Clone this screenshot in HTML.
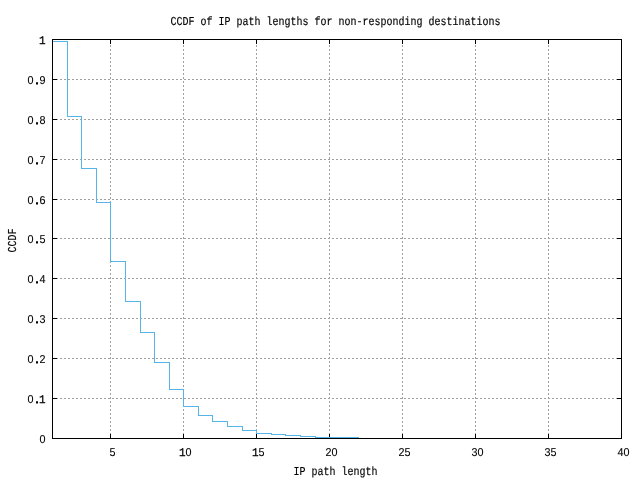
<!DOCTYPE html>
<html lang="en"><head><meta charset="utf-8">
<title>CCDF of IP path lengths for non-responding destinations</title>
<style>
html,body{margin:0;padding:0;background:#fff;}
body{width:640px;height:480px;overflow:hidden;}
svg{display:block;}
.t{font-family:"Liberation Mono", "DejaVu Sans Mono", monospace;font-size:10px;fill:#000;stroke:#000;stroke-width:0.15px;text-rendering:geometricPrecision;}
.n{font-family:"Liberation Sans", "DejaVu Sans", sans-serif;font-size:10.8px;fill:#000;stroke:#000;stroke-width:0.1px;text-rendering:geometricPrecision;}
.d{stroke-width:0.95px;stroke-linejoin:miter;}
.o{font-family:"Liberation Mono", "DejaVu Sans Mono", monospace;font-size:11px;stroke-width:0.25px;}
.g{stroke:#a0a0a0;stroke-width:1;stroke-dasharray:2 2;fill:none;}
.k{stroke:#000;stroke-width:1;fill:none;}
</style></head><body>
<svg width="640" height="480" viewBox="0 0 640 480">
<rect x="0" y="0" width="640" height="480" fill="#ffffff"/>
<g class="g" shape-rendering="crispEdges">
<line x1="52" y1="398.5" x2="622" y2="398.5"/>
<line x1="52" y1="358.5" x2="622" y2="358.5"/>
<line x1="52" y1="318.5" x2="622" y2="318.5"/>
<line x1="52" y1="278.5" x2="622" y2="278.5"/>
<line x1="52" y1="238.5" x2="622" y2="238.5"/>
<line x1="52" y1="199.5" x2="622" y2="199.5"/>
<line x1="52" y1="159.5" x2="622" y2="159.5"/>
<line x1="52" y1="119.5" x2="622" y2="119.5"/>
<line x1="52" y1="79.5" x2="622" y2="79.5"/>
<line x1="110.5" y1="439" x2="110.5" y2="39"/>
<line x1="183.5" y1="439" x2="183.5" y2="39"/>
<line x1="256.5" y1="439" x2="256.5" y2="39"/>
<line x1="329.5" y1="439" x2="329.5" y2="39"/>
<line x1="402.5" y1="439" x2="402.5" y2="39"/>
<line x1="475.5" y1="439" x2="475.5" y2="39"/>
<line x1="548.5" y1="439" x2="548.5" y2="39"/>
</g>
<g class="k" shape-rendering="crispEdges">
<line x1="52" y1="438.5" x2="57" y2="438.5"/>
<line x1="622" y1="438.5" x2="617" y2="438.5"/>
<line x1="52" y1="398.5" x2="57" y2="398.5"/>
<line x1="622" y1="398.5" x2="617" y2="398.5"/>
<line x1="52" y1="358.5" x2="57" y2="358.5"/>
<line x1="622" y1="358.5" x2="617" y2="358.5"/>
<line x1="52" y1="318.5" x2="57" y2="318.5"/>
<line x1="622" y1="318.5" x2="617" y2="318.5"/>
<line x1="52" y1="278.5" x2="57" y2="278.5"/>
<line x1="622" y1="278.5" x2="617" y2="278.5"/>
<line x1="52" y1="238.5" x2="57" y2="238.5"/>
<line x1="622" y1="238.5" x2="617" y2="238.5"/>
<line x1="52" y1="199.5" x2="57" y2="199.5"/>
<line x1="622" y1="199.5" x2="617" y2="199.5"/>
<line x1="52" y1="159.5" x2="57" y2="159.5"/>
<line x1="622" y1="159.5" x2="617" y2="159.5"/>
<line x1="52" y1="119.5" x2="57" y2="119.5"/>
<line x1="622" y1="119.5" x2="617" y2="119.5"/>
<line x1="52" y1="79.5" x2="57" y2="79.5"/>
<line x1="622" y1="79.5" x2="617" y2="79.5"/>
<line x1="52" y1="39.5" x2="57" y2="39.5"/>
<line x1="622" y1="39.5" x2="617" y2="39.5"/>
<line x1="110.5" y1="439" x2="110.5" y2="434"/>
<line x1="110.5" y1="39" x2="110.5" y2="44"/>
<line x1="183.5" y1="439" x2="183.5" y2="434"/>
<line x1="183.5" y1="39" x2="183.5" y2="44"/>
<line x1="256.5" y1="439" x2="256.5" y2="434"/>
<line x1="256.5" y1="39" x2="256.5" y2="44"/>
<line x1="329.5" y1="439" x2="329.5" y2="434"/>
<line x1="329.5" y1="39" x2="329.5" y2="44"/>
<line x1="402.5" y1="439" x2="402.5" y2="434"/>
<line x1="402.5" y1="39" x2="402.5" y2="44"/>
<line x1="475.5" y1="439" x2="475.5" y2="434"/>
<line x1="475.5" y1="39" x2="475.5" y2="44"/>
<line x1="548.5" y1="439" x2="548.5" y2="434"/>
<line x1="548.5" y1="39" x2="548.5" y2="44"/>
<line x1="621.5" y1="439" x2="621.5" y2="434"/>
<line x1="621.5" y1="39" x2="621.5" y2="44"/>
</g>
<path d="M52.5 41.5 L52.5 41.5 L67.5 41.5 L67.5 116.5 L81.5 116.5 L81.5 168.5 L96.5 168.5 L96.5 202.5 L110.5 202.5 L110.5 261.5 L125.5 261.5 L125.5 301.5 L140.5 301.5 L140.5 332.5 L154.5 332.5 L154.5 362.5 L169.5 362.5 L169.5 389.5 L183.5 389.5 L183.5 406.5 L198.5 406.5 L198.5 415.5 L212.5 415.5 L212.5 421.5 L227.5 421.5 L227.5 426.5 L242.5 426.5 L242.5 430.5 L256.5 430.5 L256.5 433.5 L271.5 433.5 L271.5 434.5 L285.5 434.5 L285.5 435.5 L300.5 435.5 L300.5 436.5 L315.5 436.5 L315.5 437.5 L329.5 437.5 L329.5 437.5 L344.5 437.5 L344.5 437.5 L358.5 437.5" fill="none" stroke="#56b4e9" stroke-width="1" stroke-linejoin="miter" stroke-linecap="square" shape-rendering="crispEdges"/>
<rect class="k" shape-rendering="crispEdges" x="52.5" y="39.5" width="569" height="399"/>
<g style="opacity:0.999">
<text class="t" transform="translate(170.5,25) scale(1,1.214)" text-anchor="start">CCDF of IP path lengths for non-responding destinations</text>
<text class="n" transform="translate(39.5,443) scale(1,1.06)">0</text>
<text class="n" transform="translate(27.5,403) scale(1,1.06)" x="0 7.9 11.57" y="0 -0.4 0">0<tspan class="d">.</tspan><tspan class="o">1</tspan></text>
<text class="n" transform="translate(27.5,363) scale(1,1.06)" x="0 7.9 12" y="0 -0.4 0">0<tspan class="d">.</tspan>2</text>
<text class="n" transform="translate(27.5,323) scale(1,1.06)" x="0 7.9 12" y="0 -0.4 0">0<tspan class="d">.</tspan>3</text>
<text class="n" transform="translate(27.5,283) scale(1,1.06)" x="0 7.9 12" y="0 -0.4 0">0<tspan class="d">.</tspan>4</text>
<text class="n" transform="translate(27.5,243) scale(1,1.06)" x="0 7.9 12" y="0 -0.4 0">0<tspan class="d">.</tspan>5</text>
<text class="n" transform="translate(27.5,204) scale(1,1.06)" x="0 7.9 12" y="0 -0.4 0">0<tspan class="d">.</tspan>6</text>
<text class="n" transform="translate(27.5,164) scale(1,1.06)" x="0 7.9 12" y="0 -0.4 0">0<tspan class="d">.</tspan>7</text>
<text class="n" transform="translate(27.5,124) scale(1,1.06)" x="0 7.9 12" y="0 -0.4 0">0<tspan class="d">.</tspan>8</text>
<text class="n" transform="translate(27.5,84) scale(1,1.06)" x="0 7.9 12" y="0 -0.4 0">0<tspan class="d">.</tspan>9</text>
<text class="n" transform="translate(39.5,44) scale(1,1.06)" x="-0.43"><tspan class="o">1</tspan></text>
<text class="n" transform="translate(109.5,456) scale(1,1.06)">5</text>
<text class="n" transform="translate(179.5,456) scale(1,1.06)" x="-0.43 6"><tspan class="o">1</tspan>0</text>
<text class="n" transform="translate(252.5,456) scale(1,1.06)" x="-0.43 6"><tspan class="o">1</tspan>5</text>
<text class="n" transform="translate(325.5,456) scale(1,1.06)" x="0 6">20</text>
<text class="n" transform="translate(398.5,456) scale(1,1.06)" x="0 6">25</text>
<text class="n" transform="translate(471.5,456) scale(1,1.06)" x="0 6">30</text>
<text class="n" transform="translate(544.5,456) scale(1,1.06)" x="0 6">35</text>
<text class="n" transform="translate(617.5,456) scale(1,1.06)" x="0 6">40</text>
<text class="t" transform="translate(293.5,475) scale(1,1.214)" text-anchor="start">IP path length</text>
<text class="t" transform="translate(16,252.5) rotate(-90) scale(1,1.214)" text-anchor="start">CCDF</text>
</g>
</svg>
</body></html>
